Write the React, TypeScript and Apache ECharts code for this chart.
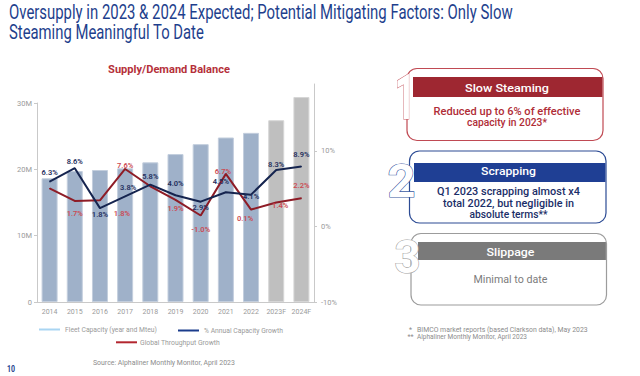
import React, { useEffect, useRef } from "react";
import * as echarts from "echarts";

// ---------- data ----------
const categories = ["2014", "2015", "2016", "2017", "2018", "2019", "2020", "2021", "2022", "2023F", "2024F"];
const fleetCapacityMteu = [18.65, 19.75, 19.9, 20.15, 21.05, 22.3, 23.8, 24.8, 25.5, 27.4, 30.9];
const annualCapacityGrowth = [6.3, 8.6, 1.8, 3.8, 5.8, 4.0, 2.9, 4.5, 4.1, 8.3, 8.9];
const globalThroughputGrowth = [4.0, 1.7, 1.8, 7.6, 4.4, 1.9, -1.0, 6.7, 0.1, 1.4, 2.2];
const throughputLabelShown = [false, true, true, true, false, true, true, true, true, true, true];
const leftTicks = [0, 10, 20, 30];
const rightTicks = [-10, 0, 10];

const titleLines = [
  "Oversupply in 2023 & 2024 Expected; Potential Mitigating Factors: Only Slow",
  "Steaming Meaningful To Date",
];
const chartTitle = "Supply/Demand Balance";
const legendNames = ["Fleet Capacity (year and Mteu)", "% Annual Capacity Growth", "Global Throughput Growth"];
const panelHeaders = ["Slow Steaming", "Scrapping", "Slippage"];
const panelBodies = [
  ["Reduced up to 6% of effective", "capacity in 2023*"],
  ["Q1 2023 scrapping almost x4", "total 2022, but negligible in", "absolute terms**"],
  ["Minimal to date"],
];
const footnotes = [
  ["*", "BIMCO market reports (based Clarkson data), May 2023"],
  ["**", "Alphaliner Monthly Monitor, April 2023"],
];
const sourceText = "Source: Alphaliner Monthly Monitor, April 2023";
const pageNumber = "10";

// ---------- styling helpers ----------
const FONT = "Roboto, 'Noto Sans', sans-serif";
let measureCtx: CanvasRenderingContext2D | null = null;
function measure(text: string, font: string) {
  if (!measureCtx) measureCtx = document.createElement("canvas").getContext("2d");
  if (!measureCtx) return text.length * 5;
  measureCtx.font = font;
  return measureCtx.measureText(text).width;
}
function txt(
  text: string,
  x: number,
  y: number,
  size: number,
  color: string,
  o: { weight?: string | number; align?: string; width?: number; z?: number } = {}
) {
  const weight = o.weight ?? "normal";
  const font = `${weight} ${size}px ${FONT}`;
  const w = measure(text, font);
  const sx = o.width ? o.width / w : 1;
  const align = o.align ?? "left";
  return {
    type: "text",
    x,
    y,
    scaleX: sx,
    z: o.z ?? 10,
    silent: true,
    style: {
      text,
      fill: color,
      font,
      align,
      textAlign: align,
      verticalAlign: "middle",
      textVerticalAlign: "middle",
    },
  };
}

const navyLabelPlace: any[] = [
  { position: "top", distance: 4.5 },
  { position: "top", distance: 2 },
  { position: "bottom", distance: 1.5 },
  { position: "top", distance: 4, offset: [3, 0] },
  { position: "top", distance: 3.5 },
  { position: "top", distance: 7.5 },
  { position: "bottom", distance: 1.5 },
  { position: "top", distance: 6, offset: [-5, 0] },
  { position: "inside", offset: [0, 1.5] },
  { position: "top", distance: 0.5 },
  { position: "top", distance: 7.5 },
];
const redLabelPlace: any[] = [
  {},
  { position: "bottom", distance: 8 },
  { position: "bottom", distance: 8.5, offset: [22, 0] },
  { position: "inside", offset: [0, -3] },
  {},
  { position: "bottom", distance: 4 },
  { position: "bottom", distance: 9.5 },
  { position: "inside", offset: [-3, -2] },
  { position: "bottom", distance: 4, offset: [-6, 0] },
  { position: "inside", offset: [4, 3] },
  { position: "top", distance: 8.5 },
];

function panel(
  i: number,
  box: { x: number; y: number; w: number; h: number },
  bandY: number,
  bandH: number,
  bandX: number,
  colors: { border: string; band: string; body: string; numeral: string },
  numeral: { cx: number; cy: number; size: number; w: number },
  headerW: number,
  bodyLines: { y: number; w: number }[],
  headerY: number,
  cx: number
) {
  const els: any[] = [];
  els.push({
    type: "rect",
    z: 5,
    silent: true,
    shape: { x: box.x, y: box.y, width: box.w, height: box.h, r: 10 },
    style: { fill: "#fff", stroke: colors.border, lineWidth: 1.2 },
  });
  els.push({
    type: "rect",
    z: 6,
    silent: true,
    shape: { x: bandX, y: bandY, width: box.x + box.w - bandX - 0.6, height: bandH },
    style: { fill: colors.band },
  });
  els.push(txt(panelHeaders[i], cx, headerY, 11, "#ffffff", { weight: 500, align: "center", width: headerW, z: 8 }));
  panelBodies[i].forEach((line, k) => {
    els.push(
      txt(line, cx, bodyLines[k].y, 10, colors.body, {
        weight: i === 2 ? "normal" : 500,
        align: "center",
        width: bodyLines[k].w,
        z: 8,
      })
    );
  });
  const nfont = `bold ${numeral.size}px ${FONT}`;
  const nw = measure(String(i + 1), nfont);
  els.push({
    type: "text",
    x: numeral.cx,
    y: numeral.cy,
    z: 9,
    silent: true,
    scaleX: numeral.w / nw,
    style: {
      text: String(i + 1),
      font: nfont,
      fill: "#ffffff",
      stroke: colors.numeral,
      lineWidth: 1.2,
      align: "center",
      textAlign: "center",
      verticalAlign: "middle",
      textVerticalAlign: "middle",
    },
  });
  return els;
}

function buildOption() {
  const isForecast = (i: number) => categories[i].endsWith("F");
  const labelBase = { show: true, fontSize: 7.5, fontWeight: 600, fontFamily: FONT };

  const graphics: any[] = [];
  // page title (two lines)
  graphics.push(txt(titleLines[0], 9, 12.5, 20, "#1e3f8d", { width: 504 }));
  graphics.push(txt(titleLines[1], 9, 32.5, 20, "#1e3f8d", { width: 195 }));
  // chart title
  graphics.push(txt(chartTitle, 169, 70, 10, "#b5303a", { weight: "bold", align: "center", width: 122 }));
  // legend
  const legendItems = [
    { x1: 39, x2: 60, y: 329.5, color: "#a9d5f2", tx: 65, tw: 92, name: legendNames[0] },
    { x1: 178, x2: 199, y: 330.5, color: "#1b3c8c", tx: 204, tw: 79, name: legendNames[1] },
    { x1: 116, x2: 137, y: 342.3, color: "#b3262f", tx: 140, tw: 80, name: legendNames[2] },
  ];
  legendItems.forEach((l) => {
    graphics.push({
      type: "line",
      silent: true,
      shape: { x1: l.x1, y1: l.y, x2: l.x2, y2: l.y },
      style: { stroke: l.color, lineWidth: 2 },
    });
    graphics.push(txt(l.name, l.tx, l.y, 8, "#9a9a9a", { width: l.tw }));
  });
  // source + page number
  graphics.push(txt(sourceText, 93, 362.7, 8, "#8c8c8c", { width: 142 }));
  graphics.push(txt(pageNumber, 7, 369, 9, "#1e3f8d", { weight: "bold", width: 8 }));
  // footnotes
  graphics.push(txt(footnotes[0][0], 409, 329.5, 7, "#8c8c8c"));
  graphics.push(txt(footnotes[0][1], 417, 329.5, 7, "#8c8c8c", { width: 171 }));
  graphics.push(txt(footnotes[1][0], 407.5, 336.7, 7, "#8c8c8c"));
  graphics.push(txt(footnotes[1][1], 417, 336.7, 7, "#8c8c8c", { width: 110 }));

  // right panels
  graphics.push(
    ...panel(
      0,
      { x: 407, y: 68.5, w: 196, h: 72 },
      77,
      20,
      413,
      { border: "#c04a53", band: "#9e2731", body: "#b02d37", numeral: "#c65a63" },
      { cx: 405, cy: 97.5, size: 63, w: 21 },
      84,
      [
        { y: 111.7, w: 147 },
        { y: 122.7, w: 80 },
      ],
      88,
      507
    )
  );
  graphics.push(
    ...panel(
      1,
      { x: 409.5, y: 151, w: 196.5, h: 72 },
      163,
      19,
      414,
      { border: "#2c4b94", band: "#1f3f94", body: "#1b2e68", numeral: "#3a5aa3" },
      { cx: 401.5, cy: 181, size: 47, w: 28 },
      55,
      [
        { y: 191.7, w: 143 },
        { y: 203.3, w: 131 },
        { y: 214.3, w: 78 },
      ],
      171.5,
      508.5
    )
  );
  graphics.push(
    ...panel(
      2,
      { x: 411, y: 233.5, w: 195.5, h: 71.5 },
      242,
      18,
      418,
      { border: "#9c9c9c", band: "#7a7a7a", body: "#7c7c7c", numeral: "#a3a3a3" },
      { cx: 407.5, cy: 257.5, size: 46, w: 26 },
      48,
      [{ y: 279.3, w: 74 }],
      252.5,
      510.5
    )
  );

  const axisLineStyle = { lineStyle: { color: "#c9c9c9", width: 1 } };
  const axisLabelStyle = { color: "#9a9a9a", fontSize: 7.5, fontFamily: FONT };

  return {
    animation: false,
    backgroundColor: "#ffffff",
    grid: [
      { left: 37, right: 326, top: 103, bottom: 74 },
      { left: 37, right: 326, top: 84, bottom: 74 },
    ],
    xAxis: [
      {
        type: "category",
        gridIndex: 0,
        data: categories,
        axisLine: axisLineStyle,
        axisTick: { show: false },
        axisLabel: { ...axisLabelStyle, fontSize: 7, margin: 6, interval: 0 },
      },
      { type: "category", gridIndex: 1, data: categories, show: false },
    ],
    yAxis: [
      {
        type: "value",
        gridIndex: 0,
        min: 0,
        max: 30,
        interval: 10,
        axisLine: { show: true, ...axisLineStyle },
        axisTick: { show: true, length: 3, lineStyle: { color: "#c9c9c9" }, customValues: leftTicks },
        splitLine: { show: false },
        axisLabel: {
          ...axisLabelStyle,
          margin: 5,
          customValues: leftTicks,
          formatter: (v: number) => (v === 0 ? "0" : `${v}M`),
        },
      },
      {
        type: "value",
        gridIndex: 1,
        position: "right",
        min: -10,
        max: 18.87,
        interval: 10,
        axisLine: { show: true, ...axisLineStyle },
        axisTick: { show: true, length: 3, lineStyle: { color: "#c9c9c9" }, customValues: rightTicks },
        splitLine: { show: false },
        axisLabel: {
          ...axisLabelStyle,
          margin: 7,
          customValues: rightTicks,
          formatter: (v: number) => `${v}%`,
        },
      },
      { type: "value", gridIndex: 0, show: false, min: -14.19, max: 19.71, splitLine: { show: false } },
      { type: "value", gridIndex: 0, show: false, min: -16.99, max: 19.8, splitLine: { show: false } },
    ],
    series: [
      {
        name: legendNames[0],
        type: "bar",
        xAxisIndex: 0,
        yAxisIndex: 0,
        barWidth: 16,
        clip: false,
        data: fleetCapacityMteu.map((v, i) => ({
          value: v,
          itemStyle: {
            color: isForecast(i) ? "#bfbfbf" : "#9fb1c9",
            borderColor: isForecast(i) ? "#d6d6d6" : "#c3cedd",
            borderWidth: 1,
          },
        })),
      },
      {
        name: legendNames[1],
        type: "line",
        xAxisIndex: 0,
        yAxisIndex: 2,
        symbol: "circle",
        symbolSize: 1,
        z: 4,
        lineStyle: { color: "#15244f", width: 2 },
        itemStyle: { color: "#15244f" },
        data: annualCapacityGrowth.map((v, i) => ({
          value: v,
          label: { ...labelBase, color: "#1e2d5c", ...navyLabelPlace[i], formatter: `${v.toFixed(1)}%` },
        })),
      },
      {
        name: legendNames[2],
        type: "line",
        xAxisIndex: 0,
        yAxisIndex: 3,
        symbol: "circle",
        symbolSize: 1,
        z: 3,
        lineStyle: { color: "#8e1c26", width: 2 },
        itemStyle: { color: "#8e1c26" },
        data: globalThroughputGrowth.map((v, i) => ({
          value: v,
          label: throughputLabelShown[i]
            ? { ...labelBase, color: "#cc4a52", ...redLabelPlace[i], formatter: `${v.toFixed(1)}%` }
            : { show: false },
        })),
      },
    ],
    graphic: { elements: graphics },
  };
}

export default function App() {
  const ref = useRef<HTMLDivElement>(null);
  useEffect(() => {
    if (!ref.current) return;
    const chart = echarts.init(ref.current, undefined, { renderer: "svg" });
    chart.setOption(buildOption() as any);
    return () => chart.dispose();
  }, []);
  return (
    <div
      ref={ref}
      style={{ position: "fixed", left: 0, top: 0, width: 640, height: 376, background: "#fff" }}
    />
  );
}
